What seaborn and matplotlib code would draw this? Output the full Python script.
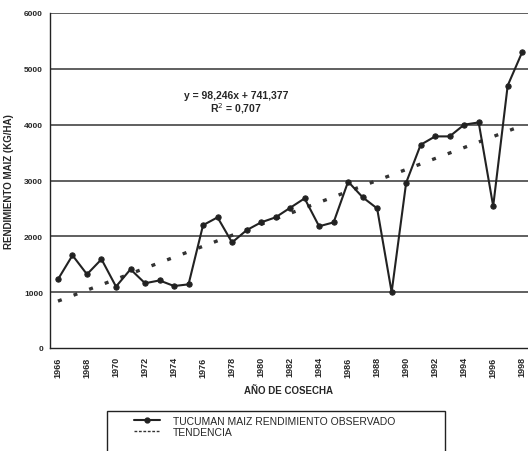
import matplotlib
matplotlib.use("Agg")
import matplotlib.pyplot as plt
import seaborn as sns
import pandas as pd
from matplotlib.lines import Line2D
from matplotlib.patches import Rectangle

years = list(range(1966, 1999))
rendimiento = [1230, 1660, 1320, 1590, 1100, 1410, 1160, 1210, 1110, 1140,
               2200, 2340, 1890, 2110, 2250, 2340, 2510, 2680, 2180, 2250,
               2980, 2700, 2500, 1000, 2960, 3640, 3790, 3790, 4000, 4040,
               2540, 4700, 5300]
slope = 98.246
intercept = 741.377
y_ticks = [0, 1000, 2000, 3000, 4000, 5000, 6000]
x_labels = list(range(1966, 1999, 2))

idx = list(range(1, len(years) + 1))
tendencia = [slope * i + intercept for i in idx]
df = pd.DataFrame({"year": years, "obs": rendimiento, "trend": tendencia})

sns.set_style("white")
plt.rcParams["font.family"] = ["Liberation Sans", "DejaVu Sans"]

fig = plt.figure(figsize=(5.28, 4.52), dpi=100)
W, H = 528, 452
ax = fig.add_axes([50 / W, (H - 349) / H, (528 - 50) / W, (349 - 14) / H])

for v in y_ticks[1:]:
    ax.axhline(v, color="#444444", lw=1.2, zorder=0)

sns.lineplot(data=df, x="year", y="trend", ax=ax, color="#333333",
             lw=2.4, linestyle=(0, (1.2, 3.8)), zorder=2)
sns.lineplot(data=df, x="year", y="obs", ax=ax, color="#222222", lw=1.5,
             marker="o", markersize=3.8, markeredgecolor="#222222", zorder=3)

ax.set_xlim(1965.45, 1998.4)
ax.set_ylim(0, 6000)
ax.set_yticks(y_ticks)
ax.set_yticklabels([str(v) for v in y_ticks], fontsize=6, fontweight="bold")
ax.set_xticks(years, minor=True)
ax.set_xticks(x_labels)
ax.set_xticklabels([str(v) for v in x_labels], rotation=90, fontsize=6.5,
                   fontweight="bold")
ax.tick_params(axis="x", which="both", direction="out", length=3, width=0.8,
               color="#222222", pad=3)
ax.tick_params(axis="y", direction="out", length=3, width=0.8, color="#222222", pad=2)
for s in ["top", "right"]:
    ax.spines[s].set_visible(False)
for s in ["left", "bottom"]:
    ax.spines[s].set_color("#222222")
    ax.spines[s].set_linewidth(1.0)

ax.set_xlabel("AÑO DE COSECHA", fontsize=7, fontweight="bold", labelpad=6)
ax.set_ylabel("RENDIMIENTO MAIZ (KG/HA)", fontsize=7, fontweight="bold", labelpad=7)

ax.text(1978.3, 4530, "y = 98,246x + 741,377", ha="center", va="center",
        fontsize=7.5, fontweight="bold")
ax.text(1978.3, 4300, "R$^2$ = 0,707", ha="center", va="center",
        fontsize=7.5, fontweight="bold")

# legend frame (extends past the bottom edge as in the reference)
fig.patches.append(Rectangle((107 / W, -0.05), 338 / W, 0.05 + (H - 412) / H,
                             transform=fig.transFigure, fill=False,
                             edgecolor="#222222", lw=1.0))

handles = [Line2D([], [], color="#222222", lw=1.5, marker="o", markersize=3.5),
           Line2D([], [], color="#333333", lw=1.0, linestyle=(0, (2, 1.2)))]
leg = fig.legend(handles, ["TUCUMAN MAIZ RENDIMIENTO OBSERVADO", "TENDENCIA"],
                 loc="upper left", bbox_to_anchor=(132 / W, 1 - 415 / H),
                 frameon=False, fontsize=7.5, ncol=1,
                 borderpad=0.2, handlelength=2.5, handletextpad=1.2,
                 labelspacing=0.1, borderaxespad=0)

fig.savefig("out.png", dpi=100)
